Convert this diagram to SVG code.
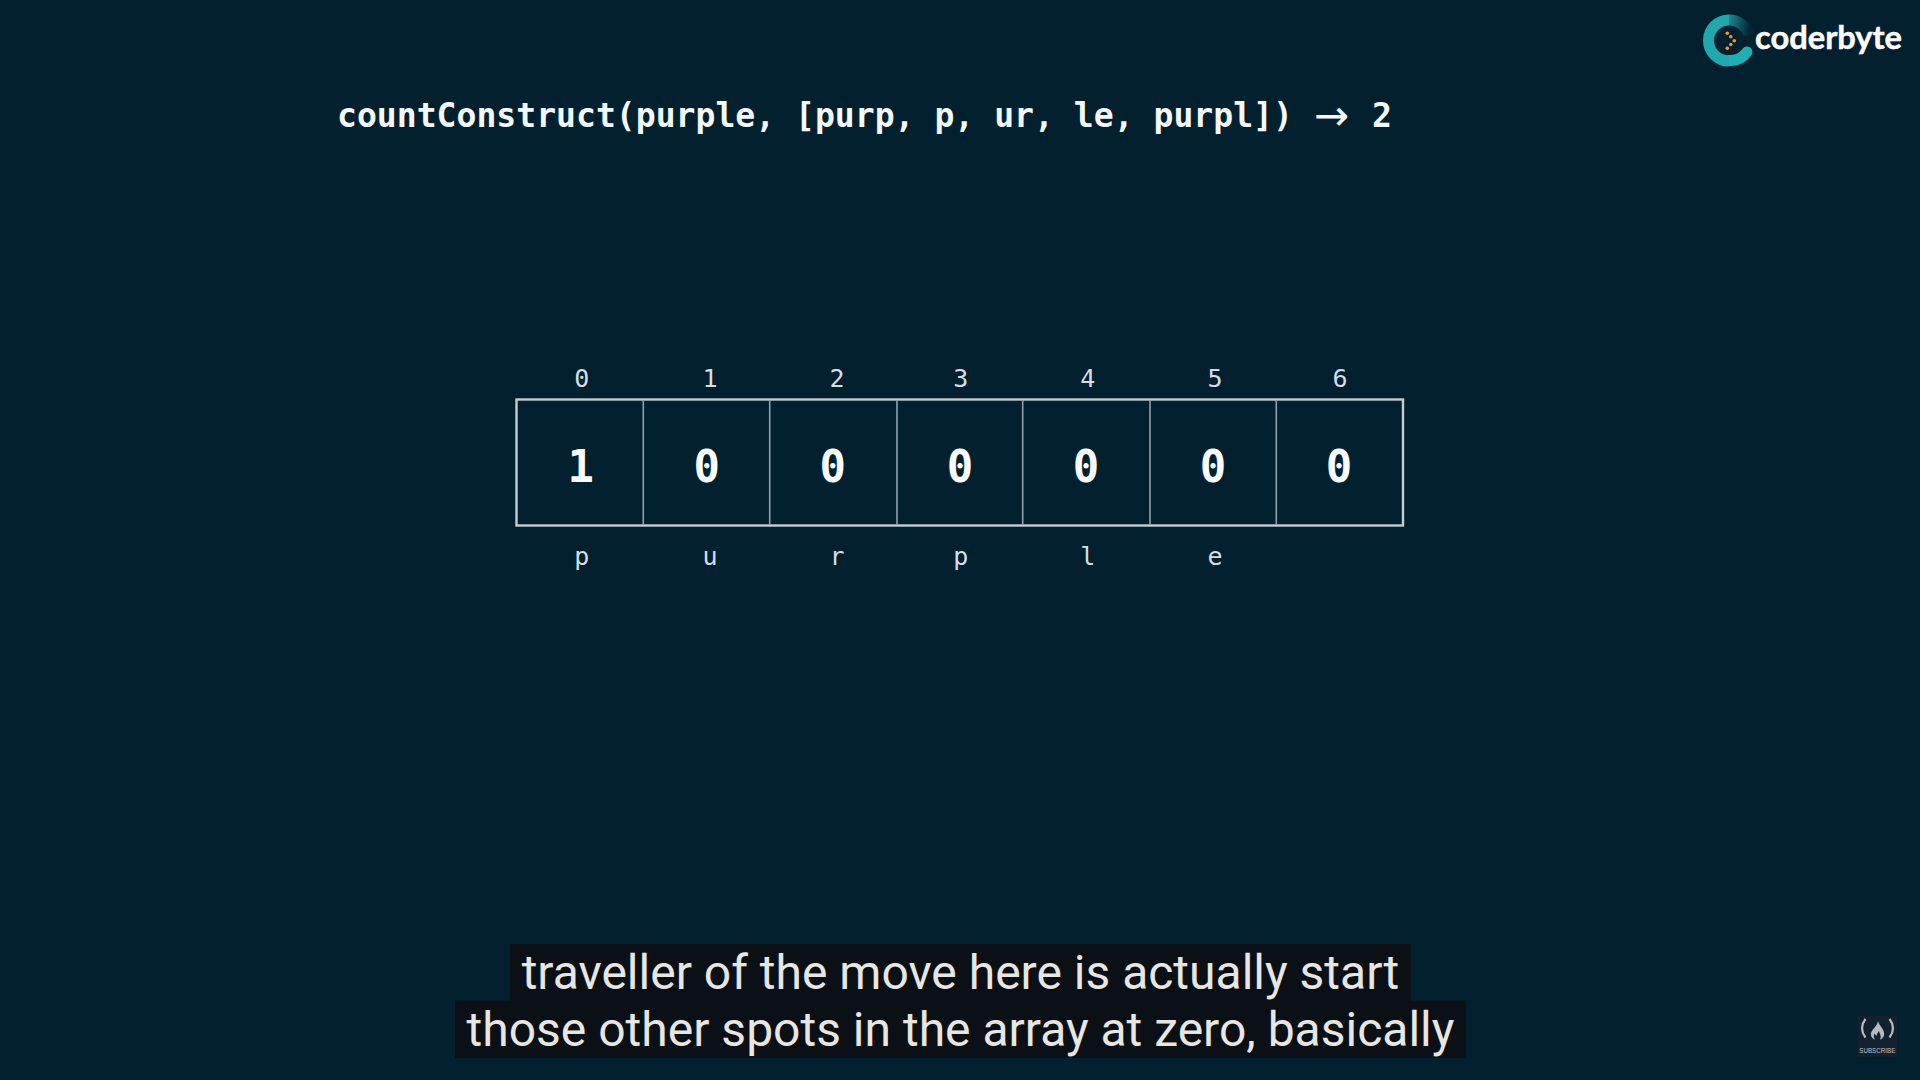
<svg xmlns="http://www.w3.org/2000/svg" width="1920" height="1080" viewBox="0 0 1920 1080">
<style>
.m{font-family:"DejaVu Sans Mono","Liberation Mono",monospace;text-anchor:middle}
.i{font-size:25px;fill:#d3dfe4}
.v{font-size:44px;font-weight:700;fill:#fbfdfe}
.cap{font-family:Roboto,"Liberation Sans",sans-serif;font-size:48px;fill:#e8e6e3;text-anchor:middle}
.box{fill:#0a1015}
.div{stroke:#8ea2ad;stroke-width:1.6}
</style>
<defs>
<linearGradient id="fade" gradientUnits="userSpaceOnUse" x1="1722" y1="20" x2="1750" y2="24">
<stop offset="0" stop-color="#1fa9ad"/><stop offset="1" stop-color="#1fa9ad" stop-opacity="0.05"/>
</linearGradient>
</defs>
<rect width="1920" height="1080" fill="#03202f"/>
<g id="logo">
<path d="M1729 60.5A20.5 20.5 0 0 0 1747 52" fill="none" stroke="#1fb0b2" stroke-width="11" stroke-linecap="round"/>
<path d="M1729 20A20.5 20.5 0 0 0 1729 61" fill="none" stroke="#1fa9ad" stroke-width="11"/>
<path d="M1749 35A20.5 20.5 0 0 0 1729 20" fill="none" stroke="url(#fade)" stroke-width="11"/>
<g fill="#ef9a2e"><circle cx="1727.3" cy="33.3" r="1.8"/><circle cx="1730.8" cy="36.8" r="1.8"/><circle cx="1734.3" cy="40.7" r="1.8"/><circle cx="1730.8" cy="44.5" r="1.8"/><circle cx="1727.3" cy="48.2" r="1.8"/></g>
<text x="1755" y="48.5" font-family="Lato,'Open Sans',sans-serif" font-weight="700" font-size="33" fill="#ffffff" stroke="#ffffff" stroke-width="0.5" textLength="147" lengthAdjust="spacingAndGlyphs">coderbyte</text>
</g>
<text id="title" font-family="'DejaVu Sans Mono','Liberation Mono',monospace" x="337" y="127" font-size="33.1" font-weight="700" fill="#f4f9fb">countConstruct(purple, [purp, p, ur, le, purpl]) <tspan x="1314" y="129.500" font-family="'DejaVu Sans',sans-serif" font-size="42" font-weight="400">→</tspan><tspan x="1372" y="127">2</tspan></text>
<g id="array">
<rect x="516.5" y="399.5" width="886.5" height="126" fill="none" stroke="#c4ced3" stroke-width="2.4"/>
<line class="div" x1="643.3" y1="400" x2="643.3" y2="525"/>
<line class="div" x1="769.7" y1="400" x2="769.7" y2="525"/>
<line class="div" x1="897" y1="400" x2="897" y2="525"/>
<line class="div" x1="1022.7" y1="400" x2="1022.7" y2="525"/>
<line class="div" x1="1150" y1="400" x2="1150" y2="525"/>
<line class="div" x1="1276.3" y1="400" x2="1276.3" y2="525"/>
</g>
<g id="indices" class="m i">
<text x="581.7" y="387">0</text><text x="710" y="387">1</text><text x="837" y="387">2</text><text x="960.7" y="387">3</text><text x="1087.7" y="387">4</text><text x="1215" y="387">5</text><text x="1340" y="387">6</text>
</g>
<g id="values" class="m v">
<text x="580.7" y="482">1</text><text x="706.7" y="482">0</text><text x="832.7" y="482">0</text><text x="960" y="482">0</text><text x="1086" y="482">0</text><text x="1213" y="482">0</text><text x="1339" y="482">0</text>
</g>
<g id="letters" class="m i">
<text x="581.7" y="564.500">p</text><text x="710" y="564.500">u</text><text x="837" y="564.500">r</text><text x="960.7" y="564.500">p</text><text x="1087.7" y="564.500">l</text><text x="1215" y="564.500">e</text>
</g>
<g id="caption">
<rect class="box" x="510" y="944" width="901" height="57"/>
<rect class="box" x="455" y="1000.5" width="1011" height="57.5"/>
<text class="cap" x="960.5" y="988.500">traveller of the move here is actually start</text>
<text class="cap" x="960.5" y="1045.500">those other spots in the array at zero, basically</text>
</g>
<g id="subscribe">
<rect x="1857.5" y="1016" width="39.5" height="41" fill="#13212f"/>
<path d="M1865.500 1019Q1858.500 1028 1865.500 1037.500M1889.500 1019Q1896.500 1028 1889.500 1037.500" fill="none" stroke="#b4bcc2" stroke-width="2.2"/>
<path d="M1878 1021C1879 1026 1885 1029 1884 1035C1883.500 1038 1881 1039.500 1880 1039.500C1882 1036 1879.500 1034 1879 1031C1877 1033 1877 1035 1876.500 1036C1875.500 1035 1875 1034 1874.500 1033.500C1873 1036 1874 1038.500 1875.500 1039.500C1872.500 1039 1870.500 1036.500 1871 1033.500C1871.500 1029.500 1877 1027 1878 1021Z" fill="#b4bcc2"/>
<text x="1877.300" y="1053" font-family="Liberation Sans,sans-serif" font-size="8" fill="#bcc4ca" text-anchor="middle" textLength="36" lengthAdjust="spacingAndGlyphs">SUBSCRIBE</text>
</g>
</svg>
